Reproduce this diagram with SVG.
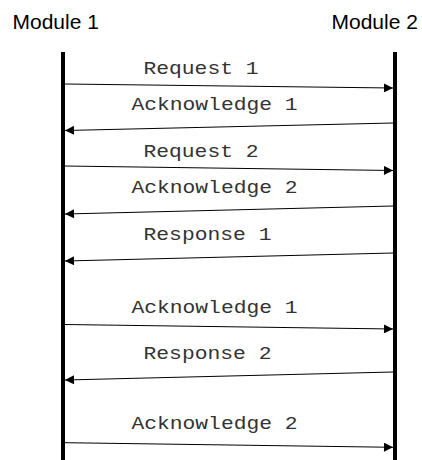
<svg xmlns="http://www.w3.org/2000/svg" width="422" height="460" viewBox="0 0 422 460">
  <style>
    .head { font-family: "Liberation Sans", Arial, sans-serif; font-size: 21px; fill: #000; }
    .msg { font-family: "Liberation Mono", "Courier New", monospace; font-size: 17.5px; fill: #333; }
    .life { stroke: #000; stroke-width: 4; }
    .arrow { stroke: #000; stroke-width: 1; fill: none; marker-end: url(#tip); }
  </style>
  <defs>
    <marker id="tip" viewBox="0 0 10 10" refX="10" refY="5" markerWidth="10" markerHeight="9" markerUnits="userSpaceOnUse" orient="auto">
      <path d="M0,0 L10,5 L0,10 Z" fill="#000"/>
    </marker>
  </defs>

  <!-- participants with their lifelines -->
  <g id="module1">
    <text class="head" x="12.5" y="29">Module 1</text>
    <line class="life" x1="63" y1="52" x2="63" y2="460"/>
  </g>
  <g id="module2">
    <text class="head" x="331.5" y="29">Module 2</text>
    <line class="life" x1="395" y1="52" x2="395" y2="460"/>
  </g>

  <!-- messages -->
  <g id="connectors">
    <line class="arrow" x1="65" y1="84" x2="393" y2="88"/>
    <line class="arrow" x1="393" y1="123" x2="65" y2="130.5"/>
    <line class="arrow" x1="65" y1="166" x2="393" y2="170.5"/>
    <line class="arrow" x1="393" y1="206" x2="65" y2="214"/>
    <line class="arrow" x1="393" y1="253" x2="65" y2="261"/>
    <line class="arrow" x1="65" y1="324.5" x2="393" y2="329"/>
    <line class="arrow" x1="393" y1="372" x2="65" y2="380"/>
    <line class="arrow" x1="65" y1="442.7" x2="393" y2="447.3"/>
  </g>

  <!-- message labels -->
  <g id="labels">
    <text class="msg" x="143.5" y="74" textLength="115" lengthAdjust="spacingAndGlyphs">Request 1</text>
    <text class="msg" x="131.5" y="110" textLength="166" lengthAdjust="spacingAndGlyphs">Acknowledge 1</text>
    <text class="msg" x="143.5" y="157.3" textLength="115" lengthAdjust="spacingAndGlyphs">Request 2</text>
    <text class="msg" x="131.5" y="193.3" textLength="166" lengthAdjust="spacingAndGlyphs">Acknowledge 2</text>
    <text class="msg" x="143.5" y="240" textLength="128" lengthAdjust="spacingAndGlyphs">Response 1</text>
    <text class="msg" x="131.5" y="312.7" textLength="166" lengthAdjust="spacingAndGlyphs">Acknowledge 1</text>
    <text class="msg" x="143.5" y="359.3" textLength="128" lengthAdjust="spacingAndGlyphs">Response 2</text>
    <text class="msg" x="131.5" y="429" textLength="166" lengthAdjust="spacingAndGlyphs">Acknowledge 2</text>
  </g>
</svg>
